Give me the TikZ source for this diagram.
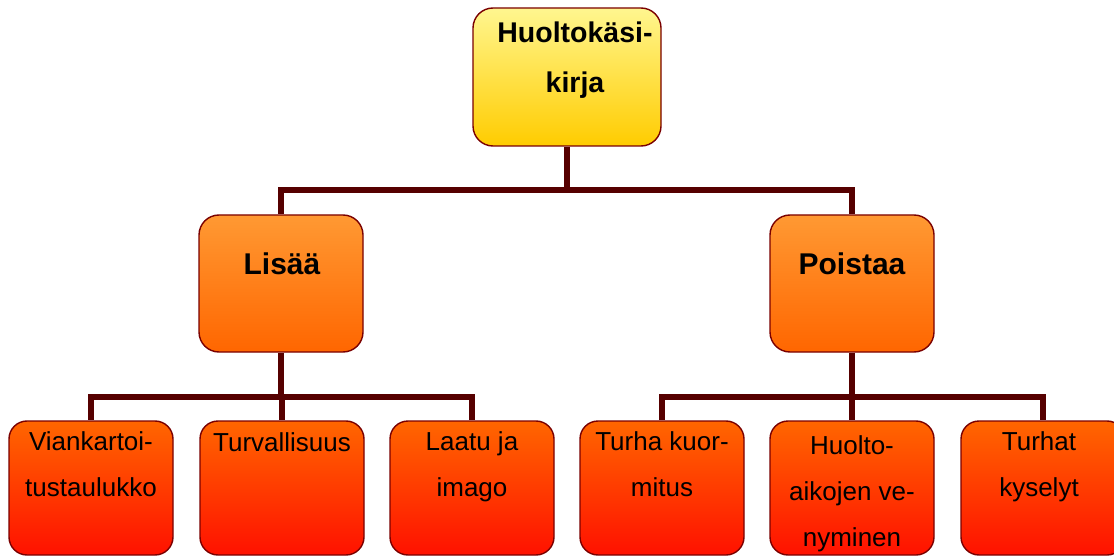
\documentclass[tikz,border=0pt]{standalone}
\usepackage{fontspec}
\setmainfont{Liberation Sans}
\usetikzlibrary{calc,backgrounds}

\definecolor{linkmaroon}{HTML}{560000}
\definecolor{edgered}{HTML}{7A0000}
\definecolor{rootTop}{HTML}{FFF68F}
\definecolor{rootBot}{HTML}{FFCC00}
\definecolor{midTop}{HTML}{FF9933}
\definecolor{midBot}{HTML}{FF6600}
\definecolor{leafTop}{HTML}{FF6600}
\definecolor{leafBot}{HTML}{FF1100}

\begin{document}
\begin{tikzpicture}[x=1pt,y=-1pt,
  box/.style={draw=edgered, line width=1.4pt, rounded corners=20pt, inner sep=0pt},
  rootbox/.style={box, minimum width=188pt, minimum height=138pt,
    top color=rootTop, bottom color=rootBot},
  midbox/.style={box, minimum width=164pt, minimum height=137pt,
    top color=midTop, bottom color=midBot},
  leafbox/.style={box, rounded corners=18pt, minimum width=164pt, minimum height=134pt,
    top color=leafTop, bottom color=leafBot},
  % the base anchor of a multi-line label sits on its last line
  roottext/.style={anchor=base, align=center, inner sep=0pt,
    font=\fontsize{28.5}{50}\selectfont\bfseries},
  midtext/.style={anchor=base, align=center, inner sep=0pt,
    font=\fontsize{30}{36}\selectfont\bfseries},
  leaftext/.style={anchor=base, align=center, inner sep=0pt,
    font=\fontsize{26}{46}\selectfont},
  conn/.style={draw=linkmaroon, line width=6pt}
]
\useasboundingbox (0,0) rectangle (1114,556);

\coordinate (bus0) at (567,190);
\coordinate (busL) at (281,397);
\coordinate (busR) at (852,397);

% boxes
\node[rootbox] (root) at (567,77) {};
\node[midbox] (lisaa) at (281,283.5) {};
\node[midbox] (poistaa) at (852,283.5) {};
\node[leafbox] (l1) at (91,488) {};
\node[leafbox] (l2) at (282,488) {};
\node[leafbox] (l3) at (472,488) {};
\node[leafbox] (r1) at (662,488) {};
\node[leafbox] (r2) at (852,488) {};
\node[leafbox] (r3) at (1043,488) {};

% connectors, behind the boxes
\begin{pgfonlayer}{background}
\path[conn] (root.south) -- (root.south |- bus0) -| (lisaa.north);
\path[conn] (root.south |- bus0) -| (poistaa.north);
\path[conn] (lisaa.south) -- (lisaa.south |- busL) -| (l1.north);
\path[conn] (l2.north |- busL) -- (l2.north);
\path[conn] (lisaa.south |- busL) -| (l3.north);
\path[conn] (poistaa.south) -- (poistaa.south |- busR) -| (r1.north);
\path[conn] (r2.north |- busR) -- (r2.north);
\path[conn] (poistaa.south |- busR) -| (r3.north);
\end{pgfonlayer}

% labels
\node[roottext] (root-t) at ($(root.north)+(8,85)$) {Huoltokäsi-\\kirja};
\node[midtext] (lisaa-t) at ($(lisaa.north)+(1,60)$) {Lisää};
\node[midtext] (poistaa-t) at ($(poistaa.north)+(0,60)$) {Poistaa};
\node[leaftext] (l1-t) at ($(l1.north)+(0,76)$) {Viankartoi-\\tustaulukko};
\node[leaftext] (l2-t) at ($(l2.north)+(0,31)$) {Turvallisuus};
\node[leaftext] (l3-t) at ($(l3.north)+(0,76)$) {Laatu ja\\imago};
\node[leaftext] (r1-t) at ($(r1.north)+(0,76)$) {Turha kuor-\\mitus};
\node[leaftext] (r2-t) at ($(r2.north)+(0,126)$) {Huolto-\\aikojen ve-\\nyminen};
\node[leaftext] (r3-t) at ($(r3.north)+(-4,76)$) {Turhat\\kyselyt};
\end{tikzpicture}
\end{document}
